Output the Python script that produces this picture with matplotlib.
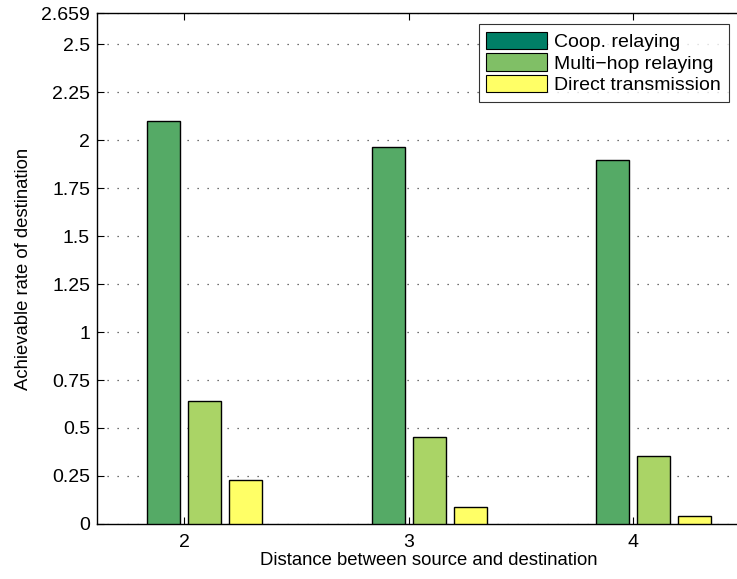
import matplotlib.pyplot as plt
import numpy as np
from matplotlib.patches import Patch

plt.rcParams['font.family'] = ['Liberation Sans', 'DejaVu Sans']

distances = [2, 3, 4]
coop_rate = [2.100, 1.965, 1.896]
multihop_rate = [0.642, 0.455, 0.354]
direct_rate = [0.231, 0.087, 0.043]
series_names = ['Coop. relaying', 'Multi\u2212hop relaying', 'Direct transmission']
yticks = [0, 0.25, 0.5, 0.75, 1, 1.25, 1.5, 1.75, 2, 2.25, 2.5, 2.659]
yticklabels = ['0', '0.25', '0.5', '0.75', '1', '1.25', '1.5', '1.75', '2', '2.25', '2.5', '2.659']

# summer colormap: bars use the 4-step map, legend the 3-step one
bar_colors = ['#55aa66', '#aad466', '#ffff66']
legend_colors = ['#007f66', '#80bf66', '#ffff66']

fig = plt.figure(figsize=(7.37, 5.79), dpi=100)
ax = fig.add_axes([0.1316, 0.095, 0.9, 0.8817])

x = np.array(distances, dtype=float)
step = 0.183
width = 0.147
for k, (vals, col) in enumerate(zip([coop_rate, multihop_rate, direct_rate], bar_colors)):
    ax.bar(x + (k - 0.5) * step, vals, width, color=col, edgecolor='black',
           linewidth=1.0, zorder=3)

ax.set_xlim(1.611, 4.567)
ax.set_ylim(0, 2.659)
ax.set_xticks(distances)
ax.set_yticks(yticks)
ax.set_yticklabels(yticklabels)
ax.tick_params(direction='in', length=5, width=0.8, labelsize=14, top=True, right=False)
ax.tick_params(axis='x', pad=7)
ax.tick_params(axis='y', pad=5)
ax.yaxis.grid(True, linestyle=(0, (1, 7)), color='#444444', linewidth=0.9, zorder=0)
ax.set_axisbelow(True)
for side in ['left', 'bottom', 'top']:
    ax.spines[side].set_linewidth(1.0)
ax.spines['right'].set_visible(False)

ax.set_xlabel('Distance between source and destination', fontsize=13.3, labelpad=1)
ax.set_ylabel('Achievable rate of destination', fontsize=13.3, labelpad=7)

handles = [Patch(facecolor=c, edgecolor='black', linewidth=0.8) for c in legend_colors]
leg = ax.legend(handles, series_names, loc='upper left', bbox_to_anchor=(0.576, 0.979),
                fontsize=14, frameon=True, fancybox=False, edgecolor='black',
                handlelength=3.1, handleheight=1.0, handletextpad=0.4,
                labelspacing=0.12, borderpad=0.38, borderaxespad=0)
leg.get_frame().set_linewidth(0.8)

fig.savefig('out.png', dpi=100)
